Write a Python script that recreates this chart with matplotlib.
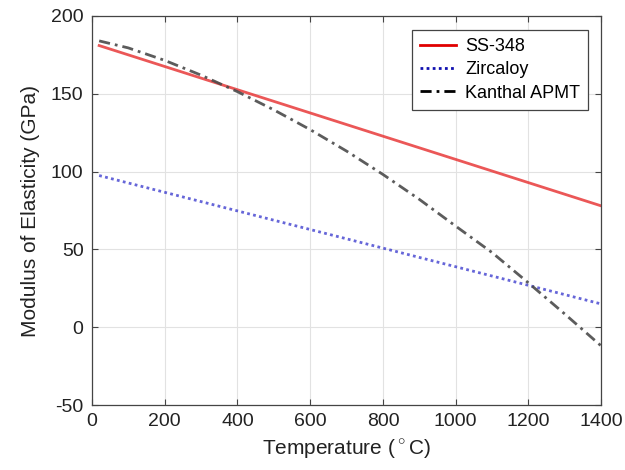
import matplotlib.pyplot as plt
from matplotlib.lines import Line2D

plt.rcParams['font.family'] = ['Liberation Sans', 'DejaVu Sans']
plt.rcParams['mathtext.fontset'] = 'custom'
plt.rcParams['mathtext.rm'] = 'Liberation Sans'
plt.rcParams['axes.unicode_minus'] = False

# temperature (deg C) and modulus of elasticity (GPa)
ss_temp = [20, 1400]
ss_mod = [181, 78]

zirc_temp = [20, 1400]
zirc_mod = [97.5, 15]

kanthal_temp = [20, 100, 200, 300, 400, 500, 600, 700, 800, 900, 1000, 1100, 1200, 1300, 1400]
kanthal_mod = [184, 179.5, 171.5, 162, 151.4, 139.7, 127, 113.2, 98.2, 82.2, 65, 48, 28.5, 8.5, -12]

x_ticks = [0, 200, 400, 600, 800, 1000, 1200, 1400]
y_ticks = [-50, 0, 50, 100, 150, 200]

fig = plt.figure(figsize=(6.25, 4.7), dpi=100)
ax = fig.add_axes([0.147, 0.138, 0.815, 0.828])

ax.plot(ss_temp, ss_mod, color='#e83a3a', lw=2, alpha=0.85)
ax.plot(zirc_temp, zirc_mod, color='#3333cc', lw=2, ls=(0, (1, 1.2)), alpha=0.75)
ax.plot(kanthal_temp, kanthal_mod, color='#4a4a4a', lw=2, ls=(0, (4, 1.8, 1, 1.8)), alpha=0.9)

ax.set_xlim(0, 1400)
ax.set_ylim(-50, 200)
ax.set_xticks(x_ticks)
ax.set_yticks(y_ticks)
ax.grid(True, color='#e2e2e2', lw=0.8)
ax.set_axisbelow(True)
ax.tick_params(direction='in', top=True, right=True, length=4, labelsize=14,
               color='#444444', labelcolor='#222222', pad=6)
for sp in ax.spines.values():
    sp.set_color('#444444')
    sp.set_linewidth(0.9)

ax.set_xlabel('Temperature ($^\\circ$C)', fontsize=15, labelpad=5, color='#222222')
ax.set_ylabel('Modulus of Elasticity (GPa)', fontsize=15, labelpad=8, color='#222222')

handles = [
    Line2D([], [], color='#e00000', lw=2),
    Line2D([], [], color='#1010b0', lw=2, ls=(0, (1, 1.2))),
    Line2D([], [], color='black', lw=2, ls=(0, (4, 1.8, 1, 1.8))),
]
leg = ax.legend(handles, ['SS-348', 'Zircaloy', 'Kanthal APMT'], loc='upper right',
                bbox_to_anchor=(0.974, 0.964), borderaxespad=0, fontsize=13,
                fancybox=False, framealpha=1, edgecolor='#444444',
                handlelength=2.0, handletextpad=0.5, labelspacing=0.35, borderpad=0.45)
leg.get_frame().set_linewidth(0.9)

plt.savefig('out.png', dpi=100)
